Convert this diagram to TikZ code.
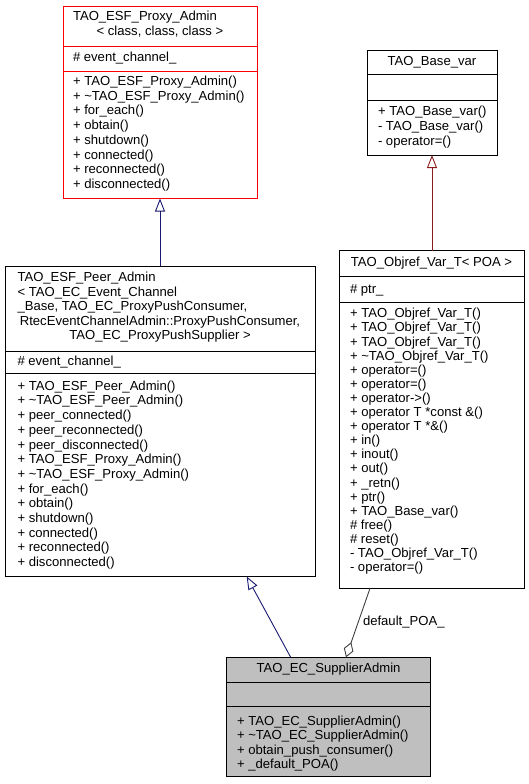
\documentclass[tikz,border=0pt]{standalone}
\usepackage{fontspec}
\setmainfont{Liberation Sans}
\usetikzlibrary{arrows.meta}
\definecolor{inhblue}{HTML}{191970}
\definecolor{inhred}{HTML}{8B1A1A}
\definecolor{aggrey}{HTML}{404040}
\definecolor{clsfill}{HTML}{BFBFBF}
\tikzset{
  cls/.style={draw=black, line width=0.9pt, inner sep=0pt, outer sep=0pt, anchor=north west},
  redcls/.style={cls, draw=red},
  graycls/.style={cls, fill=clsfill},
  txt/.style={inner sep=0pt, outer sep=0pt, anchor=base west, font=\fontsize{13.1}{14.7}\selectfont},
  ctxt/.style={txt, anchor=base},
  inh/.style={line width=0.9pt, -{Triangle[open, length=13pt, width=10pt]}},
  agg/.style={line width=0.9pt, aggrey, -{Diamond[open, length=16pt, width=10pt]}}
}
\begin{document}
\begin{tikzpicture}[x=1pt,y=-1pt]
\useasboundingbox (0,0) rectangle (529,784);
% ---------- TAO_ESF_Proxy_Admin ----------
\node[redcls, minimum width=194pt, minimum height=40pt] (b1t) at (63,6) {};
\node[redcls, minimum width=194pt, minimum height=25pt] (b1a) at (63,46) {};
\node[redcls, minimum width=194pt, minimum height=127.5pt] (b1m) at (63,71) {};
\node[txt] (b1t1) at (73,20.5) {TAO\_ESF\_Proxy\_Admin};
\node[ctxt] (b1t2) at (160,35.2) {< class, class, class >};
\node[txt] (b1a1) at (73,61.5) {\# event\_channel\_};
\foreach \t [count=\i] in {{+ TAO\_ESF\_Proxy\_Admin()},{+ \textasciitilde TAO\_ESF\_Proxy\_Admin()},{+ for\_each()},{+ obtain()},{+ shutdown()},{+ connected()},{+ reconnected()},{+ disconnected()}}
  \node[txt] (b1m\i) at (73,{85.5+14.7*(\i-1)}) {\t};
% ---------- TAO_ESF_Peer_Admin ----------
\node[cls, minimum width=310pt, minimum height=85pt] (b2t) at (5,266) {};
\node[cls, minimum width=310pt, minimum height=22pt] (b2a) at (5,351) {};
\node[cls, minimum width=310pt, minimum height=203.5pt] (b2m) at (5,373) {};
\node[txt] (b2t1) at (17.5,281.8) {TAO\_ESF\_Peer\_Admin};
\node[txt] (b2t2) at (17.5,296.3) {< TAO\_EC\_Event\_Channel};
\node[txt] (b2t3) at (17.5,310.8) {\_Base, TAO\_EC\_ProxyPushConsumer,};
\node[ctxt] (b2t4) at (160,325.3) {RtecEventChannelAdmin::ProxyPushConsumer,};
\node[ctxt] (b2t5) at (160,339.8) {TAO\_EC\_ProxyPushSupplier >};
\node[txt] (b2a1) at (17.5,365) {\# event\_channel\_};
\foreach \t [count=\i] in {{+ TAO\_ESF\_Peer\_Admin()},{+ \textasciitilde TAO\_ESF\_Peer\_Admin()},{+ peer\_connected()},{+ peer\_reconnected()},{+ peer\_disconnected()},{+ TAO\_ESF\_Proxy\_Admin()},{+ \textasciitilde TAO\_ESF\_Proxy\_Admin()},{+ for\_each()},{+ obtain()},{+ shutdown()},{+ connected()},{+ reconnected()},{+ disconnected()}}
  \node[txt] (b2m\i) at (17.5,{390.2+14.7*(\i-1)}) {\t};
% ---------- TAO_Base_var ----------
\node[cls, minimum width=130pt, minimum height=24.3pt] (b3t) at (367,50) {};
\node[cls, minimum width=130pt, minimum height=26.4pt] (b3a) at (367,74.3) {};
\node[cls, minimum width=130pt, minimum height=54.3pt] (b3m) at (367,100.7) {};
\node[ctxt] (b3t1) at (432,65.5) {TAO\_Base\_var};
\foreach \t [count=\i] in {{+ TAO\_Base\_var()},{- TAO\_Base\_var()},{- operator=()}}
  \node[txt] (b3m\i) at (378,{115.8+14.7*(\i-1)}) {\t};
% ---------- TAO_Objref_Var_T< POA > ----------
\node[cls, minimum width=185pt, minimum height=26pt] (b4t) at (339,250.7) {};
\node[cls, minimum width=185pt, minimum height=26pt] (b4a) at (339,276.7) {};
\node[cls, minimum width=185pt, minimum height=285.6pt] (b4m) at (339,302.7) {};
\node[ctxt] (b4t1) at (431.5,266.8) {TAO\_Objref\_Var\_T< POA >};
\node[txt] (b4a1) at (350,293.5) {\# ptr\_};
\foreach \t [count=\i] in {{+ TAO\_Objref\_Var\_T()},{+ TAO\_Objref\_Var\_T()},{+ TAO\_Objref\_Var\_T()},{+ \textasciitilde TAO\_Objref\_Var\_T()},{+ operator=()},{+ operator=()},{+ operator->()},{+ operator T *const \&()},{+ operator T *\&()},{+ in()},{+ inout()},{+ out()},{+ \_retn()},{+ ptr()},{+ TAO\_Base\_var()},{\# free()},{\# reset()},{- TAO\_Objref\_Var\_T()},{- operator=()}}
  \node[txt] (b4m\i) at (350,{317.8+14.1*(\i-1)}) {\t};
% ---------- TAO_EC_SupplierAdmin ----------
\node[graycls, minimum width=203.3pt, minimum height=25pt] (b5t) at (226.7,657.3) {};
\node[graycls, minimum width=203.3pt, minimum height=24.4pt] (b5a) at (226.7,682.3) {};
\node[graycls, minimum width=203.3pt, minimum height=70pt] (b5m) at (226.7,706.7) {};
\node[ctxt] (b5t1) at (328.5,672.5) {TAO\_EC\_SupplierAdmin};
\foreach \t [count=\i] in {{+ TAO\_EC\_SupplierAdmin()},{+ \textasciitilde TAO\_EC\_SupplierAdmin()},{+ obtain\_push\_consumer()},{+ \_default\_POA()}}
  \node[txt] (b5m\i) at (237,{725.2+14.5*(\i-1)}) {\t};
% ---------- connectors ----------
\draw[inh, inhblue] ([xshift=155pt]b2t.north west) -- ([xshift=97pt]b1m.south west);
\draw[inh, inhblue] ([xshift=64pt]b5t.north west) -- ([xshift=241.7pt]b2m.south west);
\draw[inh, inhred] ([xshift=93pt]b4t.north west) -- ([xshift=65pt]b3m.south west);
\draw[agg] ([xshift=31pt]b4m.south west) -- ([xshift=119.3pt]b5t.north west);
\node[txt] (lbl) at (363,625) {default\_POA\_};
\end{tikzpicture}
\end{document}
